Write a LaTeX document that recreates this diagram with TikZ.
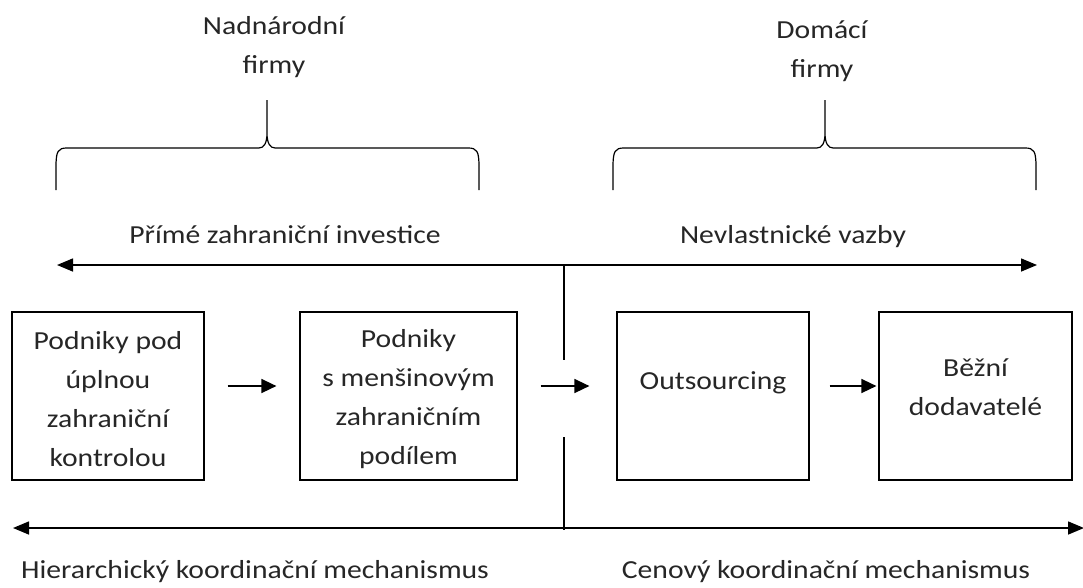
\documentclass[tikz,border=0pt]{standalone}
\usepackage{fontspec}
\setmainfont{Carlito}[FakeStretch=1.14]
\usetikzlibrary{arrows.meta}

\begin{document}
\begin{tikzpicture}[x=1pt,y=-1pt,
  box/.style={draw, line width=1.2pt, inner sep=0pt, minimum height=168pt},
  txt/.style={font=\fontsize{26}{39}\selectfont, align=center, text=black!85},
  arr/.style={-{Triangle[length=15pt,width=14pt]}, line width=1.5pt},
  dvoj/.style={{Triangle[length=16pt,width=13pt]}-{Triangle[length=16pt,width=13pt]}, line width=1.5pt}]
\useasboundingbox (0,0) rectangle (1083,587);
% horni popisky
\node[txt] (nad) at (274,47.5) {Nadnárodní\\firmy};
\node[txt] (dom) at (822,51) {Domácí\\firmy};
% slozene zavorky
\draw[line width=1.2pt] (56,190) -- (56,167) .. controls (56,151) and (58,148) .. (67,148)
  -- (259,148) .. controls (264,148) and (267,143) .. (267,133) -- (267,100)
  (267,133) .. controls (267,143) and (270,148) .. (275,148)
  -- (468,148) .. controls (477,148) and (479,151) .. (479,167) -- (479,190);
\draw[line width=1.2pt] (613,190) -- (613,167) .. controls (613,151) and (615,148) .. (624,148)
  -- (817,148) .. controls (822,148) and (825,143) .. (825,133) -- (825,100)
  (825,133) .. controls (825,143) and (828,148) .. (833,148)
  -- (1025,148) .. controls (1034,148) and (1036,151) .. (1036,167) -- (1036,190);
% horni sipka
\node[txt] (pzi) at (285,235) {Přímé zahraniční investice};
\node[txt] (nev) at (793,237) {Nevlastnické vazby};
\coordinate (hl) at (57,265);
\coordinate (hr) at (1037,265);
\draw[dvoj] (hl) -- (hr);
% rameckove uzly
\node[box, minimum width=192pt, label={[txt,yshift=-3pt]center:Podniky pod\\úplnou\\zahraniční\\kontrolou}] (pod) at (108,396) {};
\node[box, minimum width=217pt, label={[txt,yshift=-3pt]center:Podniky\\s menšinovým\\zahraničním\\podílem}] (men) at (408.5,396) {};
\node[box, minimum width=192pt, label={[txt,yshift=13pt]center:Outsourcing}] (out) at (713,396) {};
\node[box, minimum width=193pt, label={[txt,yshift=9pt]center:Běžní\\dodavatelé}] (bez) at (975.5,396) {};
% sipky mezi ramecky
\draw[arr] ([shift={(23,-10)}]pod.east) -- ([shift={(-23,-10)}]men.west);
\draw[arr] ([shift={(23,-10)}]men.east) -- ([shift={(-27,-10)}]out.west);
\draw[arr] ([shift={(20,-10)}]out.east) -- ([shift={(-2,-10)}]bez.west);
% svisla deleni
\coordinate (sh) at (564,265);
\coordinate (sh2) at (564,360);
\coordinate (sd) at (564,437);
\coordinate (sd2) at (564,530);
\draw[line width=1.2pt] (sh) -- (sh2);
\draw[line width=1.2pt] (sd) -- (sd2);
% dolni sipka
\coordinate (dl) at (13,528);
\coordinate (dr) at (1084,528);
\draw[dvoj] (dl) -- (dr);
\node[txt] (hie) at (255,572) {Hierarchický koordinační mechanismus};
\node[txt] (cen) at (826,572) {Cenový koordinační mechanismus};
\end{tikzpicture}
\end{document}
